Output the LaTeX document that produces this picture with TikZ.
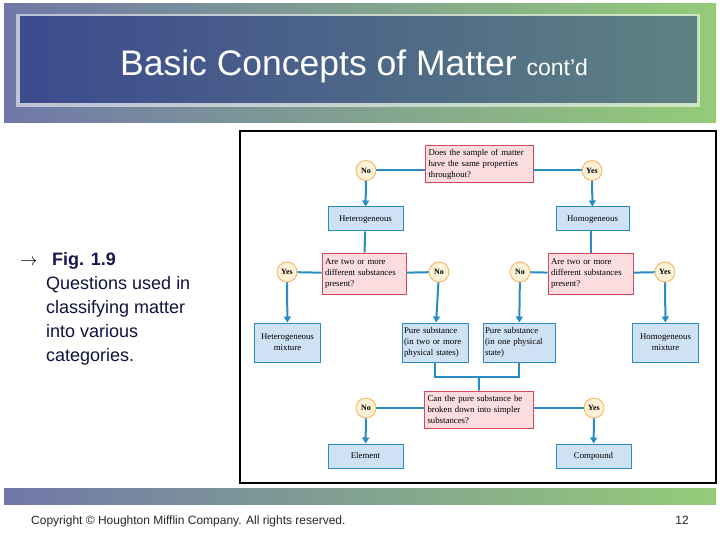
\documentclass[tikz,border=0pt]{standalone}
\usepackage{fontspec}
\setmainfont{Liberation Sans}
\newfontfamily\figfont{Liberation Serif}
\usepackage{tikz}
\usetikzlibrary{arrows.meta}

\definecolor{bandL}{HTML}{7078A8}
\definecolor{bandM}{HTML}{A4D4E4}
\definecolor{bandR}{HTML}{94CC78}
\definecolor{titleL}{HTML}{3C4A8E}
\definecolor{titleM}{HTML}{4C68A4}
\definecolor{titleR}{HTML}{5E8282}
\definecolor{flowblue}{HTML}{2A8CC4}
\definecolor{boxfill}{HTML}{CFE2F3}
\definecolor{qfill}{HTML}{FBDDE0}
\definecolor{qdraw}{HTML}{D8485C}
\definecolor{ynfill}{HTML}{FDF1D6}
\definecolor{yndraw}{HTML}{F0B35A}
\definecolor{navy}{HTML}{161650}

\tikzset{
  question/.style={draw=qdraw, fill=qfill, line width=1pt, align=left, inner sep=3pt,
    font=\figfont\fontsize{8.8}{10.8}\selectfont, anchor=center},
  answer/.style={draw=flowblue, fill=boxfill, line width=1pt, align=center, inner sep=2pt,
    font=\figfont\fontsize{8.8}{10.8}\selectfont, anchor=center},
  oneline/.style={answer, minimum width=75pt, minimum height=24pt, text height=6.5pt, text depth=2pt},
  yesno/.style={circle, draw=yndraw, fill=ynfill, line width=0.8pt, inner sep=0pt,
    minimum size=20pt, font=\figfont\bfseries\fontsize{8}{9}\selectfont},
  flow/.style={draw=flowblue, line width=2pt},
  flowarrow/.style={flow, -{Triangle[length=6pt,width=7pt]}},
}

\begin{document}
\begin{tikzpicture}[x=1pt, y=-1pt]
    \useasboundingbox[fill=white] (0,0) rectangle (720,540);
    % Titelband met kader
    \shade[left color=bandL, middle color=bandM, right color=bandR] (4,4) rectangle (716,123);
    \fill[white, opacity=0.55] (16,14) rectangle (700,107);
    \shade[left color=titleL, middle color=titleM, right color=titleR] (20,17) rectangle (697,103);
    \node[text=white, anchor=base west, inner sep=0pt, font=\fontsize{35.5}{40}\selectfont] (title) at (120,76)
        {Basic Concepts of Matter {\fontsize{23}{26}\selectfont cont'd}};
    % Voetband
    \shade[left color=bandL, middle color=bandM, right color=bandR] (4,488) rectangle (716,504);
    \node[anchor=base west, text=black!85, font=\fontsize{12}{14}\selectfont, inner sep=0pt] (copy) at (31,524)
        {Copyright \textcopyright{} Houghton Mifflin Company. All rights reserved.};
    \node[anchor=base east, text=black!85, font=\fontsize{12}{14}\selectfont, inner sep=0pt] (page) at (689,524) {12};
    % Bijschrift links
    \node[anchor=base west, inner sep=0pt, font=\fontsize{19}{22}\selectfont] (pijl) at (20,265) {$\rightarrow$};
    \node[anchor=base west, inner sep=0pt, text=navy, font=\bfseries\fontsize{18}{22}\selectfont] (fig) at (52,265) {Fig. 1.9};
    \node[anchor=north west, inner sep=0pt, align=left, text=navy!80!black, font=\fontsize{18}{24}\selectfont] (uitleg) at (46,276)
        {Questions used in\\classifying matter\\into various\\categories.};
    % Kader van de figuur
    \draw[line width=2pt] (240,131) rectangle (716,483);

    % Vragen
    \node[question, minimum width=108pt, minimum height=37pt, text width=101pt] (q1) at (479,164.5)
        {Does the sample of matter\\have the same properties\\throughout?};
    \node[question, minimum width=84pt, minimum height=41pt, text width=78pt] (q2) at (364,273.5)
        {Are two or more\\different substances\\present?};
    \node[question, minimum width=85pt, minimum height=41pt, text width=79pt] (q3) at (590.5,273.5)
        {Are two or more\\different substances\\present?};
    \node[question, minimum width=109pt, minimum height=37pt, text width=102pt] (q4) at (478.5,409.5)
        {Can the pure substance be\\broken down into simpler\\substances?};
    % Antwoorden
    \node[yesno] (no1) at (366,170.5) {No};
    \node[yesno] (yes1) at (592,170.5) {Yes};
    \node[yesno] (yes2) at (287,272) {Yes};
    \node[yesno] (no2) at (439,272) {No};
    \node[yesno] (no3) at (520,272) {No};
    \node[yesno] (yes3) at (665,272) {Yes};
    \node[yesno] (no4) at (366,408) {No};
    \node[yesno] (yes4) at (594,408) {Yes};
    % Categorieen
    \node[oneline] (het) at (365.5,219) {Heterogeneous};
    \node[oneline, minimum width=73pt] (hom) at (592.5,219) {Homogeneous};
    \node[answer, minimum width=65pt, minimum height=39pt, text width=62pt] (hetmix) at (287.5,342.5) {Heterogeneous\\mixture};
    \node[answer, minimum width=66pt, minimum height=39pt, text width=62pt, align=left] (pure2) at (435,342.5)
        {Pure substance\\(in two or more\\physical states)};
    \node[answer, minimum width=72pt, minimum height=39pt, text width=68pt, align=left] (pure1) at (519,342.5)
        {Pure substance\\(in one physical\\state)};
    \node[answer, minimum width=65pt, minimum height=39pt, text width=62pt] (hommix) at (665.5,342.5) {Homogeneous\\mixture};
    \node[oneline] (elem) at (365.5,456) {Element};
    \node[oneline] (comp) at (593.5,456) {Compound};
    \coordinate (join) at (479,376.5);

    % Verbindingen
    \draw[flow] (q1.west |- no1) -- (no1);
    \draw[flow] (q1.east |- yes1) -- (yes1);
    \draw[flowarrow] (no1) -- (het);
    \draw[flowarrow] (yes1) -- (hom);
    \draw[flow] (het) -- (q2);
    \draw[flow] (hom.south -| q3) -- (q3);
    \draw[flow] (q2) -- (yes2);
    \draw[flow] (q2) -- (no2);
    \draw[flow] (q3) -- (no3);
    \draw[flow] (q3) -- (yes3);
    \draw[flowarrow] (yes2) -- (hetmix);
    \draw[flowarrow] (no2) -- (pure2);
    \draw[flowarrow] (no3) -- (pure1);
    \draw[flowarrow] (yes3) -- (hommix);
    \draw[flow] (pure2.south) |- (join) -| (pure1.south);
    \draw[flow] (join) -- (q4);
    \draw[flow] (q4.west |- no4) -- (no4);
    \draw[flow] (q4.east |- yes4) -- (yes4);
    \draw[flowarrow] (no4) -- (elem);
    \draw[flowarrow] (yes4) -- (comp);
\end{tikzpicture}
\end{document}
